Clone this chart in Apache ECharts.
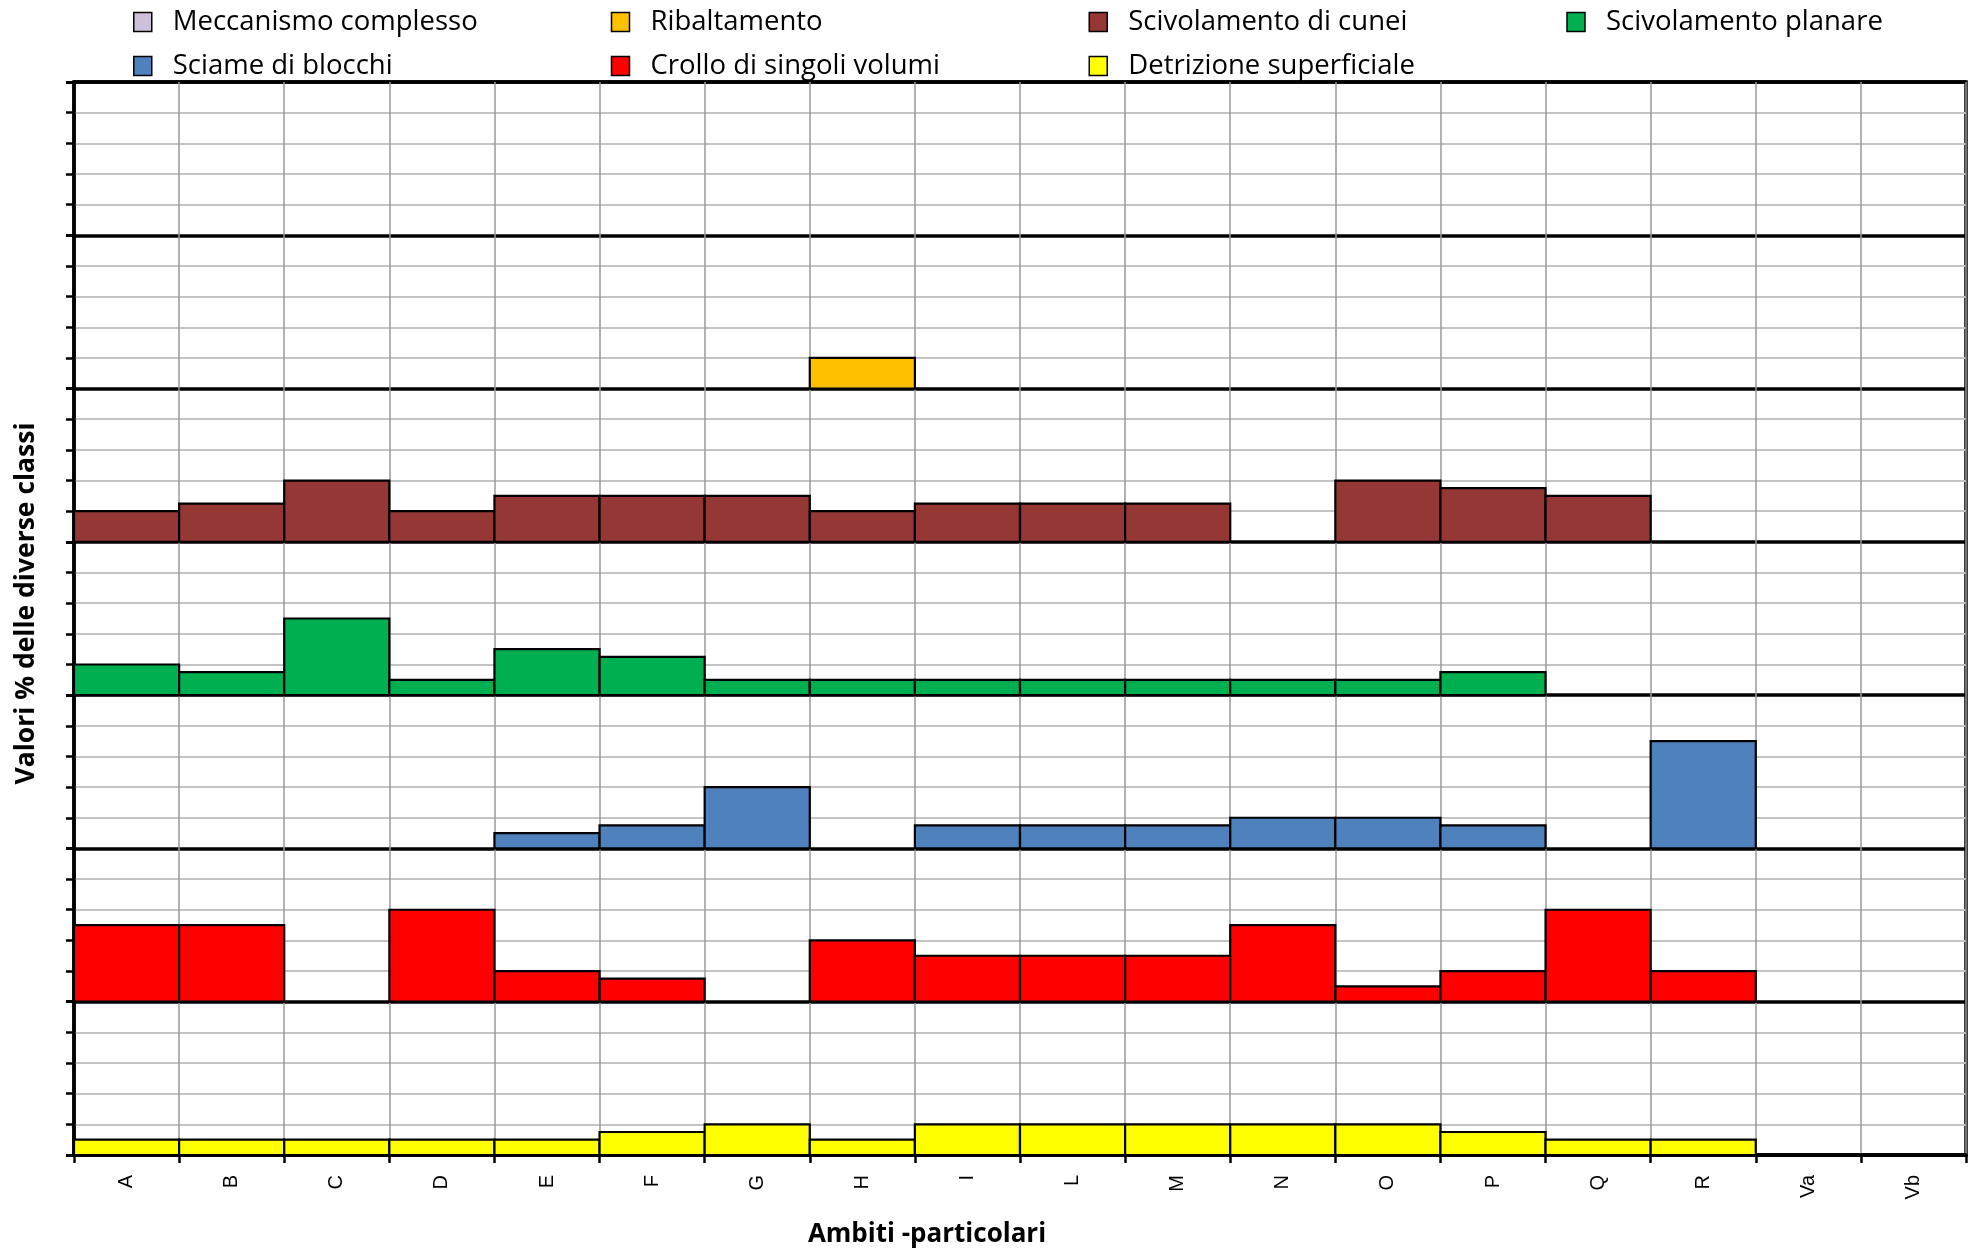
<!DOCTYPE html>
<html>
<head>
<meta charset="utf-8">
<script src="https://cdn.jsdelivr.net/npm/echarts@6/dist/echarts.min.js"></script>
<style>
  html, body { margin: 0; padding: 0; background: #fff; }
  #chart { width: 1983px; height: 1251px; }
</style>
</head>
<body>
<div id="chart"></div>
<script>
// Ambiti (categories on the x axis)
const categories = ['A','B','C','D','E','F','G','H','I','L','M','N','O','P','Q','R','Va','Vb'];

// Percentage of each instability class per ambito (each class has its own 0-100 band)
const detrizioneSuperficiale = [10,10,10,10,10,15,20,10,20,20,20,20,20,15,10,10,0,0];
const crolloSingoliVolumi    = [50,50,0,60,20,15,0,40,30,30,30,50,10,20,60,20,0,0];
const sciameBlocchi          = [0,0,0,0,10,15,40,0,15,15,15,20,20,15,0,70,0,0];
const scivolamentoPlanare    = [20,15,50,10,30,25,10,10,10,10,10,10,10,15,0,0,0,0];
const scivolamentoCunei      = [20,25,40,20,30,30,30,20,25,25,25,0,40,35,30,0,0,0];
const ribaltamento           = [0,0,0,0,0,0,0,20,0,0,0,0,0,0,0,0,0,0];
const meccanismoComplesso    = [0,0,0,0,0,0,0,0,0,0,0,0,0,0,0,0,0,0];

const BAND = 100; // height of one class band on the value axis

// classes from the bottom band upwards
const classes = [
  { name: 'Detrizione superficiale',   color: '#FFFF00', values: detrizioneSuperficiale },
  { name: 'Crollo di singoli volumi',  color: '#FF0000', values: crolloSingoliVolumi },
  { name: 'Sciame di blocchi',         color: '#4F81BD', values: sciameBlocchi },
  { name: 'Scivolamento planare',      color: '#00B050', values: scivolamentoPlanare },
  { name: 'Scivolamento di cunei',     color: '#953735', values: scivolamentoCunei },
  { name: 'Ribaltamento',              color: '#FFC000', values: ribaltamento },
  { name: 'Meccanismo complesso',      color: '#CCC0DA', values: meccanismoComplesso }
];

const legendOrder = [
  'Meccanismo complesso', 'Ribaltamento', 'Scivolamento di cunei', 'Scivolamento planare',
  'Sciame di blocchi', 'Crollo di singoli volumi', 'Detrizione superficiale'
];

function bandBar(color) {
  return function (params, api) {
    const idx = api.value(0);
    const v = api.value(1);
    const base = api.value(2);
    if (!v) return null;
    const p0 = api.coord([idx, base]);
    const p1 = api.coord([idx, base + v]);
    const w = api.size([1, 0])[0];
    return {
      type: 'rect',
      shape: { x: p0[0] - w / 2, y: p1[1], width: w, height: p0[1] - p1[1] },
      style: { fill: color, stroke: '#000', lineWidth: 2.2 }
    };
  };
}

const series = classes.map((c, b) => ({
  name: c.name,
  type: 'custom',
  renderItem: bandBar(c.color),
  itemStyle: { color: c.color, borderColor: '#000', borderWidth: 1.5 },
  encode: { x: 0, y: 1 },
  data: c.values.map((v, i) => [i, v, b * BAND]),
  z: 3
}));

const chart = echarts.init(document.getElementById('chart'), null, { renderer: 'canvas' });

const colW = 438;
chart.setOption({
  animation: false,
  backgroundColor: '#fff',
  legend: {
    left: 133,
    top: 0,
    padding: 0,
    itemGap: 0,
    itemWidth: 18,
    itemHeight: 19,
    icon: 'rect',
    itemStyle: { borderColor: '#000', borderWidth: 1.5 },
    textStyle: {
      fontFamily: 'Open Sans',
      fontSize: 27.5,
      color: '#000',
      width: colW,
      lineHeight: 44,
      padding: [0, 0, 0, 16]
    },
    data: legendOrder.map((n, i) => i === 3
      ? { name: n, textStyle: { width: 300 } }
      : { name: n })
  },
  grid: {
    left: 74, right: 17, top: 82, bottom: 96,
    outerBoundsMode: 'none',
    show: true, borderColor: '#000', borderWidth: 3.5
  },
  xAxis: {
    type: 'category',
    data: categories,
    boundaryGap: true,
    name: 'Ambiti -particolari',
    nameLocation: 'middle',
    nameGap: 67,
    nameTextStyle: {
      fontFamily: 'Open Sans', fontWeight: 'bold', fontSize: 26, color: '#000',
      padding: [0, 186, 0, 0]
    },
    axisLine: { show: true, lineStyle: { color: '#000', width: 3.5 } },
    axisTick: { show: true, inside: false, length: 8, lineStyle: { color: '#000', width: 2.5 } },
    axisLabel: {
      rotate: 90, margin: 20, fontFamily: 'Liberation Sans', fontSize: 20, color: '#000'
    },
    splitLine: { show: true, interval: 0, lineStyle: { color: '#999', width: 1.5 } }
  },
  yAxis: {
    type: 'value',
    min: 0,
    max: 7 * BAND,
    interval: BAND,
    name: 'Valori % delle diverse classi',
    nameLocation: 'middle',
    nameRotate: 90,
    nameGap: 34,
    nameTextStyle: {
      fontFamily: 'Open Sans', fontWeight: 'bold', fontSize: 26.5, color: '#000',
      padding: [0, 0, 0, 30]
    },
    axisLine: { show: true, lineStyle: { color: '#000', width: 3.5 } },
    axisTick: { show: true, inside: false, length: 8, lineStyle: { color: '#000', width: 3 } },
    minorTick: { show: true, splitNumber: 5, length: 8, lineStyle: { color: '#000', width: 2.5 } },
    axisLabel: { show: false },
    splitLine: { show: true, lineStyle: { color: '#000', width: 3.5 } },
    minorSplitLine: { show: true, lineStyle: { color: '#c4c4c4', width: 2 } }
  },
  series: series
});
</script>
</body>
</html>
